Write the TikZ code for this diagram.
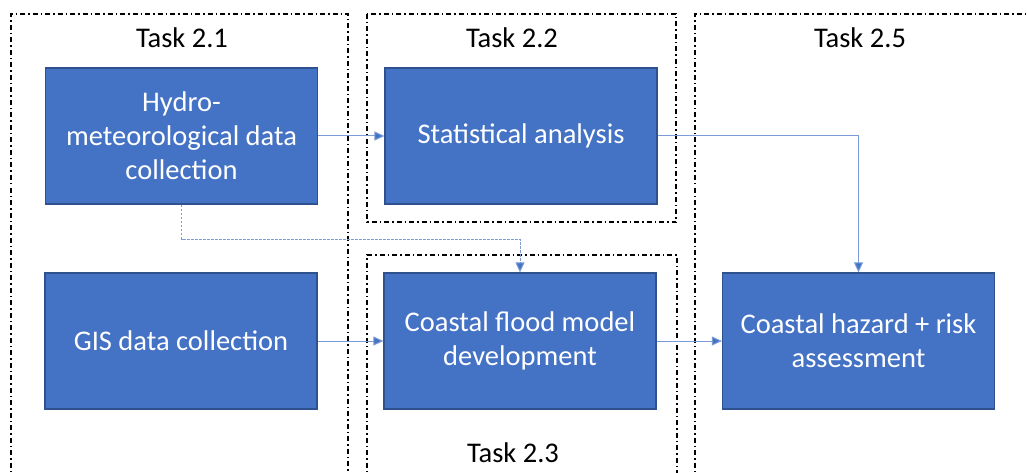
\documentclass[tikz,border=0pt]{standalone}
\usepackage{fontspec}
\setmainfont{Carlito}
\usetikzlibrary{arrows.meta}
\definecolor{boxfill}{HTML}{4472C4}
\definecolor{boxline}{HTML}{2F528F}
\definecolor{conn}{HTML}{7C9CD8}
\tikzset{
  taskbox/.style={draw=boxline, fill=boxfill, line width=1.2pt, minimum width=272pt, minimum height=136pt,
    text=white, align=center, font=\fontsize{28.5}{34}\selectfont, inner sep=0pt},
  tasklabel/.style={font=\fontsize{28.5}{32}\selectfont, text=black, inner sep=0pt},
  frame/.style={draw=black, line width=1.2pt, dash pattern=on 5pt off 3pt on 1.5pt off 3pt},
  conn/.style={draw=conn, line width=1pt, -{Triangle[length=10pt,width=9pt,fill=boxfill]}},
  dconn/.style={conn, dash pattern=on 2.5pt off 1.5pt},
}
\begin{document}
\begin{tikzpicture}[x=1pt,y=-1pt]
\useasboundingbox (0,0) rectangle (1027,473);
% frames
\draw[frame] (11,480) -- (11,14) -- (348,14) -- (348,480);
\draw[frame] (367,14) rectangle (676,222);
\draw[frame] (367,480) -- (367,255) -- (677,255) -- (677,480);
\draw[frame] (695,480) -- (695,14) -- (1035,14);
% labels
\node[tasklabel] (t21) at (182,38) {Task 2.1};
\node[tasklabel] (t22) at (512,38) {Task 2.2};
\node[tasklabel] (t25) at (860,38) {Task 2.5};
\node[tasklabel] (t23) at (513,453) {Task 2.3};
% boxes
\node[taskbox] (hydro) at (181.5,136) {Hydro-\\meteorological data\\collection};
\node[taskbox] (stat) at (521,136) {Statistical analysis};
\node[taskbox] (gis) at (181,341) {GIS data collection};
\node[taskbox] (flood) at (520,341) {Coastal flood model\\development};
\node[taskbox] (hazard) at (858.5,341) {Coastal hazard + risk\\assessment};
% connectors
\coordinate (dmid) at (350,239);
\draw[conn] (hydro.east) -- (stat.west);
\draw[conn] (stat.east) -| (hazard.north);
\draw[dconn] (hydro.south) |- (dmid) -| (flood.north);
\draw[conn] (gis.east) -- (flood.west);
\draw[conn] (flood.east) -- (hazard.west);
\end{tikzpicture}
\end{document}
